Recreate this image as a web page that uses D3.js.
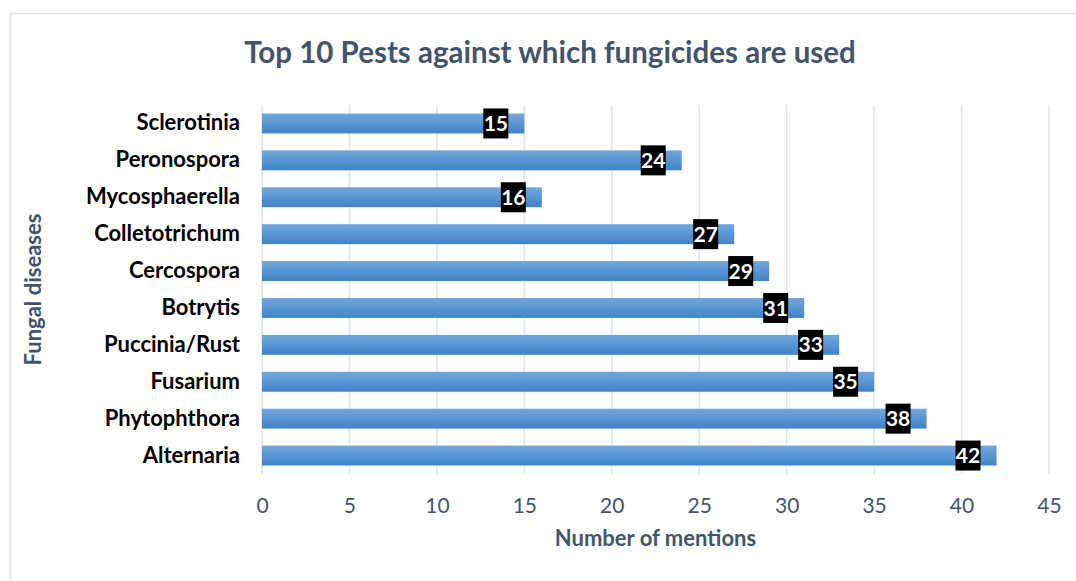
<!DOCTYPE html>
<html>
<head>
<meta charset="utf-8">
<script src="https://cdn.jsdelivr.net/npm/d3@7/dist/d3.min.js"></script>
<style>
  html, body { margin: 0; padding: 0; background: #fff; }
  svg { display: block; }
  text { font-family: Lato, "Open Sans", "Liberation Sans", sans-serif; }
</style>
</head>
<body>
<svg id="chart" width="1076" height="581"></svg>
<script>
// Fungal diseases, listed top to bottom
const categories = ["Sclerotinia", "Peronospora", "Mycosphaerella", "Colletotrichum",
  "Cercospora", "Botrytis", "Puccinia/Rust", "Fusarium", "Phytophthora", "Alternaria"];
const mentions = [15, 24, 16, 27, 29, 31, 33, 35, 38, 42];
const xTicks = [0, 5, 10, 15, 20, 25, 30, 35, 40, 45];

const chartTitle = "Top 10 Pests against which fungicides are used";
const xTitle = "Number of mentions";
const yTitle = "Fungal diseases";

const svg = d3.select("#chart");
const plot = { left: 262, right: 1049, top: 105, bottom: 474 };
const slate = "#44546A";

// chart area frame
svg.append("rect")
  .attr("x", 10.5).attr("y", 13.5)
  .attr("width", 1100).attr("height", 600)
  .attr("fill", "#fff").attr("stroke", "#dfe2e7").attr("stroke-width", 1.5);

const defs = svg.append("defs");
const grad = defs.append("linearGradient")
  .attr("id", "barFill").attr("x1", 0).attr("y1", 0).attr("x2", 0).attr("y2", 1);
grad.append("stop").attr("offset", "0%").attr("stop-color", "#72a7de");
grad.append("stop").attr("offset", "100%").attr("stop-color", "#3f84c8");

const x = d3.scaleLinear().domain([0, 45]).range([plot.left, plot.right]);
const y = d3.scaleBand().domain(categories).range([plot.top, plot.bottom]).paddingInner(0.46).paddingOuter(0.23);

// vertical gridlines
svg.append("g").selectAll("line").data(xTicks).join("line")
  .attr("x1", d => x(d)).attr("x2", d => x(d))
  .attr("y1", plot.top).attr("y2", plot.bottom)
  .attr("stroke", "#dfe3ea").attr("stroke-width", 1.5);

// x tick labels
const xAxis = d3.axisBottom(x).tickValues(xTicks).tickSize(0).tickPadding(0);
const gx = svg.append("g").attr("transform", `translate(0,513)`).call(xAxis);
gx.select(".domain").remove();
gx.selectAll("text")
  .attr("dy", 0)
  .attr("font-family", "Lato, 'Open Sans', sans-serif")
  .attr("font-size", 21).attr("fill", slate);

// category labels
const yAxis = d3.axisLeft(y).tickSize(0).tickPadding(0);
const gy = svg.append("g").attr("transform", `translate(${plot.left - 22},0)`).call(yAxis);
gy.select(".domain").remove();
gy.selectAll("text")
  .attr("font-family", "Lato, 'Open Sans', sans-serif")
  .attr("font-size", 22).attr("font-weight", "bold").attr("fill", "#000");

// bars
const rows = categories.map((c, i) => ({ name: c, value: mentions[i] }));
svg.append("g").selectAll("rect").data(rows).join("rect")
  .attr("x", x(0))
  .attr("y", d => y(d.name))
  .attr("width", d => x(d.value) - x(0))
  .attr("height", y.bandwidth())
  .attr("fill", "url(#barFill)");

// value labels in black boxes near bar ends
const lbl = svg.append("g").selectAll("g").data(rows).join("g")
  .attr("transform", d => `translate(${x(d.value) - 16},${y(d.name) + y.bandwidth() / 2})`);
lbl.append("rect")
  .attr("x", -25).attr("y", -15).attr("width", 25).attr("height", 30)
  .attr("fill", "#000");
lbl.append("text")
  .attr("x", -12.5).attr("y", 0).attr("dy", "0.36em")
  .attr("text-anchor", "middle")
  .attr("font-size", 21).attr("font-weight", "bold").attr("fill", "#fff")
  .text(d => d.value);

// titles
svg.append("text")
  .attr("x", 550).attr("y", 63).attr("text-anchor", "middle")
  .attr("font-size", 29.5).attr("font-weight", "bold").attr("fill", slate)
  .text(chartTitle);

svg.append("text")
  .attr("x", (plot.left + plot.right) / 2).attr("y", 546).attr("text-anchor", "middle")
  .attr("font-size", 22).attr("font-weight", "bold").attr("fill", slate)
  .text(xTitle);

svg.append("text")
  .attr("transform", `translate(41,${(plot.top + plot.bottom) / 2}) rotate(-90)`)
  .attr("text-anchor", "middle")
  .attr("font-size", 22).attr("font-weight", "bold").attr("fill", slate)
  .text(yTitle);
</script>
</body>
</html>
